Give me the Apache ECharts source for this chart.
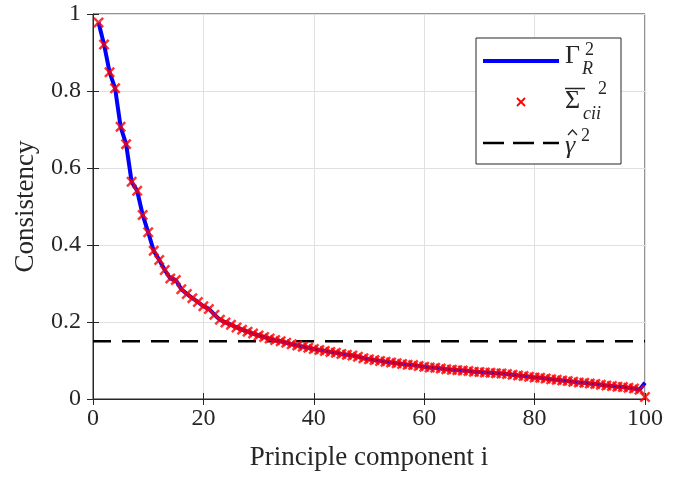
<!DOCTYPE html>
<html>
<head>
<meta charset="utf-8">
<script src="https://cdn.jsdelivr.net/npm/echarts@6/dist/echarts.min.js"></script>
<style>
  html, body { margin: 0; padding: 0; background: #fff; }
  #main { width: 696px; height: 477px; }
</style>
</head>
<body>
<div id="main"></div>
<script>
// component index i = 1..100
var components = [];
for (var k = 1; k <= 100; k++) components.push(k);

// Gamma_R^2 (blue line)
var gammaR = [
  0.978, 0.921, 0.849, 0.807, 0.707, 0.662, 0.564, 0.541, 0.478, 0.433,
  0.385, 0.361, 0.335, 0.313, 0.309, 0.285, 0.273, 0.262, 0.252, 0.241,
  0.234, 0.219, 0.206, 0.199, 0.193, 0.186, 0.180, 0.175, 0.170, 0.165,
  0.161, 0.157, 0.153, 0.150, 0.146, 0.142, 0.139, 0.136, 0.133, 0.130,
  0.127, 0.125, 0.122, 0.120, 0.117, 0.115, 0.113, 0.110, 0.106, 0.103,
  0.101, 0.099, 0.097, 0.095, 0.093, 0.091, 0.089, 0.088, 0.086, 0.084,
  0.082, 0.081, 0.079, 0.077, 0.076, 0.075, 0.074, 0.073, 0.071, 0.070,
  0.069, 0.068, 0.067, 0.066, 0.065, 0.063, 0.061, 0.060, 0.058, 0.056,
  0.055, 0.053, 0.051, 0.050, 0.048, 0.047, 0.045, 0.043, 0.042, 0.040,
  0.039, 0.037, 0.035, 0.034, 0.032, 0.031, 0.029, 0.027, 0.024, 0.042
];

// Sigma_cii^2 (red crosses)
var sigmaC = [
  0.978, 0.921, 0.849, 0.807, 0.707, 0.662, 0.564, 0.541, 0.478, 0.433,
  0.385, 0.361, 0.335, 0.313, 0.309, 0.285, 0.273, 0.262, 0.252, 0.241,
  0.234, 0.219, 0.206, 0.199, 0.193, 0.186, 0.180, 0.175, 0.170, 0.165,
  0.161, 0.157, 0.153, 0.150, 0.146, 0.142, 0.139, 0.136, 0.133, 0.130,
  0.127, 0.125, 0.122, 0.120, 0.117, 0.115, 0.113, 0.110, 0.106, 0.103,
  0.101, 0.099, 0.097, 0.095, 0.093, 0.091, 0.089, 0.088, 0.086, 0.084,
  0.082, 0.081, 0.079, 0.077, 0.076, 0.075, 0.074, 0.073, 0.071, 0.070,
  0.069, 0.068, 0.067, 0.066, 0.065, 0.063, 0.061, 0.060, 0.058, 0.056,
  0.055, 0.053, 0.051, 0.050, 0.048, 0.047, 0.045, 0.043, 0.042, 0.040,
  0.039, 0.037, 0.035, 0.034, 0.032, 0.031, 0.029, 0.027, 0.024, 0.005
];

// gamma-hat^2 threshold (dashed)
var gammaHat = 0.15;
var xRange = [0, 100];

var serif = '"Liberation Serif", "DejaVu Serif", serif';
var ink = '#262626';
var crossPath = 'path://M0,1.6L1.6,0L5,3.4L8.4,0L10,1.6L6.6,5L10,8.4L8.4,10L5,6.6L1.6,10L0,8.4L3.4,5Z';

var myChart = echarts.init(document.getElementById('main'));

var lineData = components.map(function (c, i) { return [c, gammaR[i]]; });
var crossData = components.map(function (c, i) { return [c, sigmaC[i]]; });
var hatData = xRange.map(function (x) { return [x, gammaHat]; });

var option = {
    animation: false,
    grid: { left: 93, right: 51, top: 14, bottom: 78, show: true, borderColor: ink, borderWidth: 1 },
    xAxis: [{
        type: 'value', min: 0, max: 100, interval: 20,
        name: 'Principle component i', nameLocation: 'middle', nameGap: 45,
        nameTextStyle: { fontFamily: serif, fontSize: 27, color: ink },
        axisLine: { show: true, lineStyle: { color: ink } },
        axisTick: { inside: true, length: 6, lineStyle: { color: ink } },
        axisLabel: { fontFamily: serif, fontSize: 24, color: ink, margin: 8 },
        splitLine: { show: true, lineStyle: { color: '#e0e0e0', width: 1 } }
    }, {
        type: 'value', min: 0, max: 100, interval: 20, position: 'top',
        axisLine: { show: false }, axisLabel: { show: false },
        axisTick: { inside: true, length: 6, lineStyle: { color: ink } },
        splitLine: { show: false }
    }],
    yAxis: [{
        type: 'value', min: 0, max: 1, interval: 0.2,
        name: 'Consistency', nameLocation: 'middle', nameGap: 54,
        nameTextStyle: { fontFamily: serif, fontSize: 27, color: ink },
        axisLine: { show: true, lineStyle: { color: ink } },
        axisTick: { show: true, inside: true, length: 6, lineStyle: { color: ink } },
        axisLabel: {
            fontFamily: serif, fontSize: 24, color: ink, margin: 12,
            formatter: function (v) { return String(Math.round(v * 10) / 10); }
        },
        splitLine: { show: true, lineStyle: { color: '#e0e0e0', width: 1 } }
    }, {
        type: 'value', min: 0, max: 1, interval: 0.2, position: 'right',
        axisLine: { show: false }, axisLabel: { show: false },
        axisTick: { show: true, inside: true, length: 6, lineStyle: { color: ink } },
        splitLine: { show: false }
    }],
    series: [{
        name: 'gammaR', type: 'line', data: lineData,
        showSymbol: false, symbol: 'none',
        lineStyle: { color: '#0000ff', width: 4 }, z: 3
    }, {
        name: 'sigmaC', type: 'scatter', data: crossData,
        symbol: crossPath, symbolSize: 11,
        itemStyle: { color: '#ff0000' }, z: 4
    }, {
        name: 'gammaHat', type: 'line', data: hatData,
        showSymbol: false, symbol: 'none',
        lineStyle: { color: '#000000', width: 2.5, type: [18, 11] }, z: 2
    }],
    graphic: [
        { type: 'rect', shape: { x: 476, y: 38, width: 145, height: 126 },
          style: { fill: '#fff', stroke: ink, lineWidth: 1 }, z: 10 },
        { type: 'line', shape: { x1: 483, y1: 61, x2: 559, y2: 61 },
          style: { stroke: '#0000ff', lineWidth: 4 }, z: 11 },
        { type: 'text', x: 565, y: 69, z: 11,
          style: { text: 'Γ', font: '26px ' + serif, fill: ink, textVerticalAlign: 'bottom' } },
        { type: 'text', x: 585, y: 59, z: 11,
          style: { text: '2', font: '18px ' + serif, fill: ink, textVerticalAlign: 'bottom' } },
        { type: 'text', x: 582, y: 78, z: 11,
          style: { text: 'R', font: 'italic 18px ' + serif, fill: ink, textVerticalAlign: 'bottom' } },
        { type: 'line', shape: { x1: 517, y1: 98, x2: 525, y2: 106 },
          style: { stroke: '#ff0000', lineWidth: 1.8 }, z: 11 },
        { type: 'line', shape: { x1: 525, y1: 98, x2: 517, y2: 106 },
          style: { stroke: '#ff0000', lineWidth: 1.8 }, z: 11 },
        { type: 'line', shape: { x1: 565, y1: 88.5, x2: 585, y2: 88.5 },
          style: { stroke: ink, lineWidth: 1.5 }, z: 11 },
        { type: 'text', x: 565, y: 114, z: 11,
          style: { text: 'Σ', font: '26px ' + serif, fill: ink, textVerticalAlign: 'bottom' } },
        { type: 'text', x: 598, y: 98, z: 11,
          style: { text: '2', font: '18px ' + serif, fill: ink, textVerticalAlign: 'bottom' } },
        { type: 'text', x: 583, y: 123, z: 11,
          style: { text: 'cii', font: 'italic 18px ' + serif, fill: ink, textVerticalAlign: 'bottom' } },
        { type: 'line', shape: { x1: 483, y1: 143, x2: 559, y2: 143 },
          style: { stroke: '#000', lineWidth: 2.5, lineDash: [21, 9] }, z: 11 },
        { type: 'text', x: 565, y: 159, z: 11,
          style: { text: 'γ', font: 'italic 26px ' + serif, fill: ink, textVerticalAlign: 'bottom' } },
        { type: 'polyline', shape: { points: [[568, 135], [572.5, 130], [577, 135]] },
          style: { stroke: ink, lineWidth: 1.3, fill: null }, z: 11 },
        { type: 'text', x: 581, y: 145, z: 11,
          style: { text: '2', font: '18px ' + serif, fill: ink, textVerticalAlign: 'bottom' } }
    ]
};
myChart.setOption(option);
</script>
</body>
</html>
